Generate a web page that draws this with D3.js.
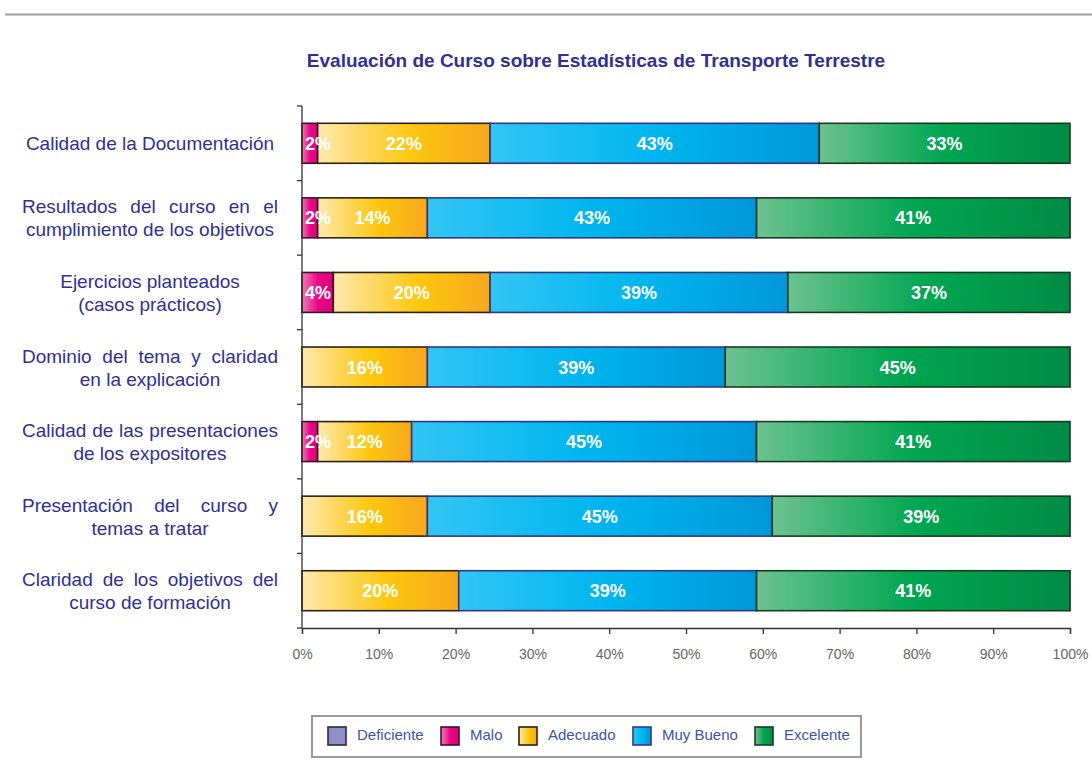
<!DOCTYPE html>
<html>
<head>
<meta charset="utf-8">
<script src="https://cdn.jsdelivr.net/npm/d3@7"></script>
<style>
  body { margin: 0; background: #fff; }
  svg { display: block; font-family: Arial, "Liberation Sans", sans-serif; }
</style>
</head>
<body>
<svg id="chart" width="1092" height="778"></svg>
<script>
// categories, top to bottom, one array of lines each
var categories = [
    ["Calidad de la Documentación"],
    ["Resultados del curso en el", "cumplimiento de los objetivos"],
    ["Ejercicios planteados", "(casos prácticos)"],
    ["Dominio del tema y claridad", "en la explicación"],
    ["Calidad de las presentaciones", "de los expositores"],
    ["Presentación del curso y", "temas a tratar"],
    ["Claridad de los objetivos del", "curso de formación"]
];

var seriesNames = ["Deficiente", "Malo", "Adecuado", "Muy Bueno", "Excelente"];

// percent of answers per category (same order as categories)
var deficiente = [0, 0, 0, 0, 0, 0, 0];
var malo       = [2.04, 2.04, 4.08, 0, 2.04, 0, 0];
var adecuado   = [22.45, 14.29, 20.41, 16.33, 12.24, 16.33, 20.41];
var muyBueno   = [42.86, 42.86, 38.78, 38.78, 44.90, 44.90, 38.78];
var excelente  = [32.65, 40.82, 36.73, 44.90, 40.82, 38.78, 40.82];

var xTicks = [0, 10, 20, 30, 40, 50, 60, 70, 80, 90, 100];

var title = "Evaluación de Curso sobre Estadísticas de Transporte Terrestre";

var svg = d3.select("#chart");

var margin = {left: 302, right: 22, top: 106, bottom: 150};
var width = 1092, height = 778;

// gradient stops per series: [offset, color]
var gradStops = {
    "Deficiente": [[0, "#8e90c8"], [1, "#8e90c8"]],
    "Malo":       [[0, "#f27ab0"], [0.5, "#e8088a"], [1, "#de007a"]],
    "Adecuado":   [[0, "#fee9ae"], [0.55, "#fdc70c"], [1, "#f6a81f"]],
    "Muy Bueno":  [[0, "#33c5f3"], [0.5, "#00b6ef"], [1, "#0097d8"]],
    "Excelente":  [[0, "#6dc290"], [0.5, "#00a651"], [1, "#008b45"]]
};
var borders = {
    "Deficiente": "#2a2a44",
    "Malo": "#3a1528",
    "Adecuado": "#2b2315",
    "Muy Bueno": "#2e3a87",
    "Excelente": "#173c22"
};

var defs = svg.append("defs");
seriesNames.forEach(function (name, i) {
    var g = defs.append("linearGradient")
        .attr("id", "grad" + i)
        .attr("x1", "0%").attr("x2", "100%")
        .attr("y1", "0%").attr("y2", "0%");
    gradStops[name].forEach(function (s) {
        g.append("stop").attr("offset", s[0]).attr("stop-color", s[1]);
    });
});

// top rule
svg.append("line")
    .attr("x1", 5).attr("x2", width)
    .attr("y1", 14.5).attr("y2", 14.5)
    .attr("stroke", "#a0a0a0").attr("stroke-width", 2);

svg.append("text")
    .attr("x", 596).attr("y", 67)
    .attr("text-anchor", "middle")
    .attr("fill", "#2e3192")
    .style("font-weight", "bold")
    .style("font-size", "19px")
    .text(title);

var x = d3.scaleLinear()
    .domain([0, 100])
    .range([margin.left, width - margin.right]);

var y = d3.scaleBand()
    .domain(d3.range(categories.length))
    .range([margin.top, height - margin.bottom])
    .paddingInner(0.464)
    .paddingOuter(0.232);

// stack
var rows = categories.map(function (c, i) {
    return {
        "Deficiente": deficiente[i],
        "Malo": malo[i],
        "Adecuado": adecuado[i],
        "Muy Bueno": muyBueno[i],
        "Excelente": excelente[i]
    };
});
var stacked = d3.stack().keys(seriesNames)(rows);

// flatten the segments, drop empty ones
var segments = [];
stacked.forEach(function (s, si) {
    s.forEach(function (d, i) {
        if (d[1] - d[0] > 0) segments.push({d: d, i: i, si: si, key: s.key});
    });
});

svg.append("g").selectAll("rect")
    .data(segments)
    .enter().append("rect")
    .attr("x", function (o) { return x(o.d[0]); })
    .attr("y", function (o) { return y(o.i); })
    .attr("width", function (o) { return x(o.d[1]) - x(o.d[0]); })
    .attr("height", y.bandwidth())
    .attr("fill", function (o) { return "url(#grad" + o.si + ")"; })
    .attr("stroke", function (o) { return borders[o.key]; })
    .attr("stroke-width", 1.6);

// value labels on top of all bars
svg.append("g").selectAll("text")
    .data(segments)
    .enter().append("text")
    .attr("y", function (o) { return y(o.i) + y.bandwidth() / 2 + 6.5; })
    .attr("text-anchor", "middle")
    .attr("fill", "#fff")
    .style("font-weight", "bold")
    .style("font-size", "18px")
    .text(function (o) { return Math.round(o.d[1] - o.d[0]) + "%"; })
    .attr("x", function (o) {
        var w = this.getComputedTextLength();
        var mid = (x(o.d[0]) + x(o.d[1])) / 2;
        return Math.max(mid, x(o.d[0]) + 3 + w / 2);
    });

// left axis with ticks at band boundaries
var axisColor = "#333";
var y0 = y.range()[0], y1 = y.range()[1];
svg.append("line")
    .attr("x1", margin.left).attr("x2", margin.left)
    .attr("y1", y0).attr("y2", y1)
    .attr("stroke", axisColor).attr("stroke-width", 1.3);
d3.range(categories.length + 1).forEach(function (k) {
    var yy = y0 + k * y.step();
    svg.append("line")
        .attr("x1", margin.left - 5).attr("x2", margin.left)
        .attr("y1", yy).attr("y2", yy)
        .attr("stroke", axisColor).attr("stroke-width", 1.3);
});

// bottom axis
var xAxis = d3.axisBottom(x)
    .tickValues(xTicks)
    .tickSize(6)
    .tickFormat(function (d) { return d + "%"; });
var gx = svg.append("g")
    .attr("transform", "translate(0," + y1 + ")")
    .call(xAxis);
gx.select(".domain").attr("stroke", axisColor).attr("stroke-width", 1.3);
gx.selectAll(".tick line").attr("stroke", axisColor).attr("stroke-width", 1.3);
gx.selectAll(".tick text")
    .attr("y", 21)
    .attr("fill", "#666")
    .style("font-size", "14px")
    .style("font-family", "Arial, sans-serif");

// category labels; long lines that are not last get justified by word gaps
var labelLeft = 22, labelRight = 278;
var labelCenter = (labelLeft + labelRight) / 2;
var labelG = svg.append("g")
    .attr("fill", "#2e3192")
    .style("font-size", "19px");
categories.forEach(function (lines, i) {
    var cy = y(i) + y.bandwidth() / 2;
    var lineH = 23;
    var startY = cy - (lines.length - 1) * lineH / 2 + 7;
    lines.forEach(function (line, j) {
        var ly = startY + j * lineH;
        var t = labelG.append("text")
            .attr("x", labelCenter)
            .attr("y", ly)
            .attr("text-anchor", "middle")
            .text(line);
        var w = t.node().getComputedTextLength();
        var words = line.split(" ");
        if (j < lines.length - 1 && w > 195 && words.length > 1) {
            t.remove();
            var wordNodes = words.map(function (wd) {
                return labelG.append("text").attr("y", ly).text(wd);
            });
            var widths = wordNodes.map(function (n) { return n.node().getComputedTextLength(); });
            var gap = (labelRight - labelLeft - d3.sum(widths)) / (words.length - 1);
            var cx = labelLeft;
            wordNodes.forEach(function (n, k) {
                n.attr("x", cx);
                cx += widths[k] + gap;
            });
        }
    });
});

// legend
var legendItems = [
    {name: "Deficiente", sx: 328},
    {name: "Malo", sx: 441},
    {name: "Adecuado", sx: 519},
    {name: "Muy Bueno", sx: 633},
    {name: "Excelente", sx: 755}
];
svg.append("rect")
    .attr("x", 312).attr("y", 716)
    .attr("width", 549).attr("height", 41)
    .attr("fill", "#fff")
    .attr("stroke", "#9a9a9a").attr("stroke-width", 2);
var leg = svg.append("g").selectAll("g")
    .data(legendItems)
    .enter().append("g");
leg.append("rect")
    .attr("x", function (d) { return d.sx; })
    .attr("y", 727)
    .attr("width", 18).attr("height", 18)
    .attr("fill", function (d) { return "url(#grad" + seriesNames.indexOf(d.name) + ")"; })
    .attr("stroke", function (d) { return borders[d.name]; })
    .attr("stroke-width", 1.6);
leg.append("text")
    .attr("x", function (d) { return d.sx + 29; })
    .attr("y", 740)
    .attr("fill", "#3b55a6")
    .style("font-size", "15px")
    .text(function (d) { return d.name; });
</script>
</body>
</html>
